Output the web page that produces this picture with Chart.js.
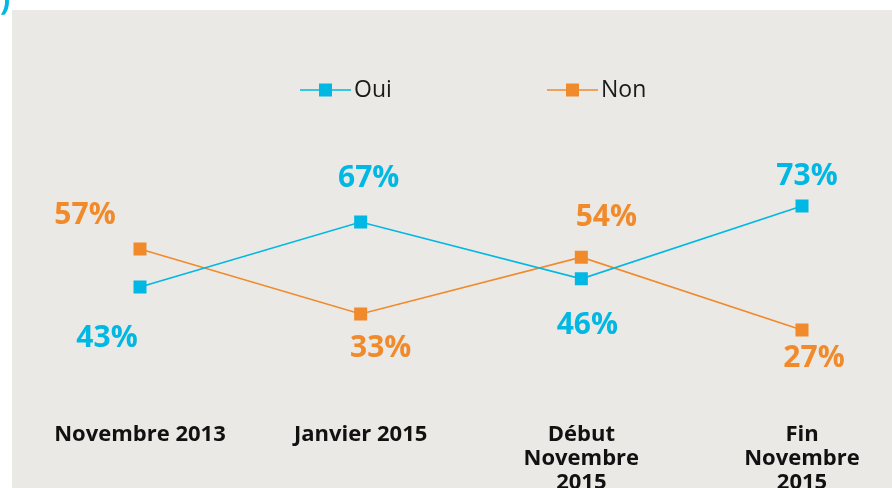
<!DOCTYPE html>
<html>
<head>
<meta charset="utf-8">
<style>
  html, body { margin: 0; padding: 0; background: #ffffff; }
  #wrap { width: 892px; height: 488px; position: relative; }
</style>
<script src="https://cdn.jsdelivr.net/npm/chart.js@4/dist/chart.umd.min.js"></script>
</head>
<body>
<div id="wrap"><canvas id="c" width="892" height="488"></canvas></div>
<script>
const categories = [
  "Novembre 2013",
  "Janvier 2015",
  ["Début", "Novembre", "2015"],
  ["Fin", "Novembre", "2015"]
];
const seriesNames = ["Oui", "Non"];
const ouiValues = [43, 67, 46, 73];
const nonValues = [57, 33, 54, 27];

const BLUE = "#00b8e3";
const ORANGE = "#f08a2b";
const BG = "#ebe9e5";
const FONT = "'Open Sans', Lato, sans-serif";

// label placement relative to each point (dx, baseline dy)
const labelOffsets = [
  [[-33, 60], [8, -35], [6, 55], [5, -21]],
  [[-55, -25], [20, 43], [25, -31], [12, 37]]
];

const backgroundPlugin = {
  id: "bgPanel",
  beforeDraw(chart) {
    const ctx = chart.ctx;
    ctx.save();
    ctx.fillStyle = "#ffffff";
    ctx.fillRect(0, 0, chart.width, chart.height);
    ctx.fillStyle = BG;
    ctx.fillRect(12, 10, chart.width - 12, chart.height - 10);
    ctx.fillStyle = BLUE;
    ctx.font = "bold 30px " + FONT;
    ctx.textAlign = "left";
    ctx.textBaseline = "alphabetic";
    ctx.fillText(")", 0, 10);
    ctx.restore();
  }
};

const labelsPlugin = {
  id: "valueLabels",
  afterDatasetsDraw(chart) {
    const ctx = chart.ctx;
    ctx.save();
    ctx.font = "bold 30px " + FONT;
    ctx.textAlign = "center";
    ctx.textBaseline = "alphabetic";
    chart.data.datasets.forEach((ds, di) => {
      const meta = chart.getDatasetMeta(di);
      meta.data.forEach((pt, i) => {
        const off = labelOffsets[di][i];
        ctx.fillStyle = ds.borderColor;
        ctx.fillText(ds.data[i] + "%", pt.x + off[0], pt.y + off[1]);
      });
    });
    ctx.restore();
  }
};

const legendPlugin = {
  id: "customLegend",
  afterDraw(chart) {
    const ctx = chart.ctx;
    const starts = [300, 547];
    const y = 90;
    ctx.save();
    chart.data.datasets.forEach((ds, di) => {
      const x0 = starts[di];
      ctx.strokeStyle = ds.borderColor;
      ctx.lineWidth = 1.5;
      ctx.beginPath();
      ctx.moveTo(x0, y);
      ctx.lineTo(x0 + 51, y);
      ctx.stroke();
      ctx.fillStyle = ds.borderColor;
      ctx.fillRect(x0 + 19, y - 6.5, 13, 13);
      ctx.fillStyle = "#1a1a1a";
      ctx.font = "23px " + FONT;
      ctx.textAlign = "left";
      ctx.textBaseline = "middle";
      ctx.fillText(ds.label, x0 + 54, y);
    });
    ctx.restore();
  }
};

new Chart(document.getElementById("c"), {
  type: "line",
  data: {
    labels: categories,
    datasets: [
      {
        label: seriesNames[0],
        data: ouiValues,
        borderColor: BLUE,
        backgroundColor: BLUE,
        borderWidth: 1.6,
        pointStyle: "rect",
        pointRadius: 9.2,
        pointHoverRadius: 9.2,
        pointBorderWidth: 0,
        tension: 0
      },
      {
        label: seriesNames[1],
        data: nonValues,
        borderColor: ORANGE,
        backgroundColor: ORANGE,
        borderWidth: 1.6,
        pointStyle: "rect",
        pointRadius: 9.2,
        pointHoverRadius: 9.2,
        pointBorderWidth: 0,
        tension: 0
      }
    ]
  },
  options: {
    responsive: false,
    animation: false,
    devicePixelRatio: 1,
    layout: { padding: { left: 140, right: 90, top: 133, bottom: 0 } },
    plugins: {
      legend: { display: false },
      tooltip: { enabled: false }
    },
    scales: {
      x: {
        offset: false,
        grid: { display: false, drawTicks: false },
        border: { display: false },
        afterFit(scale) { scale.height = 85; },
        ticks: {
          padding: 20,
          color: "#111111",
          maxRotation: 0,
          autoSkip: false,
          font: { family: FONT, size: 22, weight: "bold", lineHeight: 1.08 }
        }
      },
      y: {
        display: false,
        min: 0,
        max: 100
      }
    }
  },
  plugins: [backgroundPlugin, labelsPlugin, legendPlugin]
});
</script>
</body>
</html>
